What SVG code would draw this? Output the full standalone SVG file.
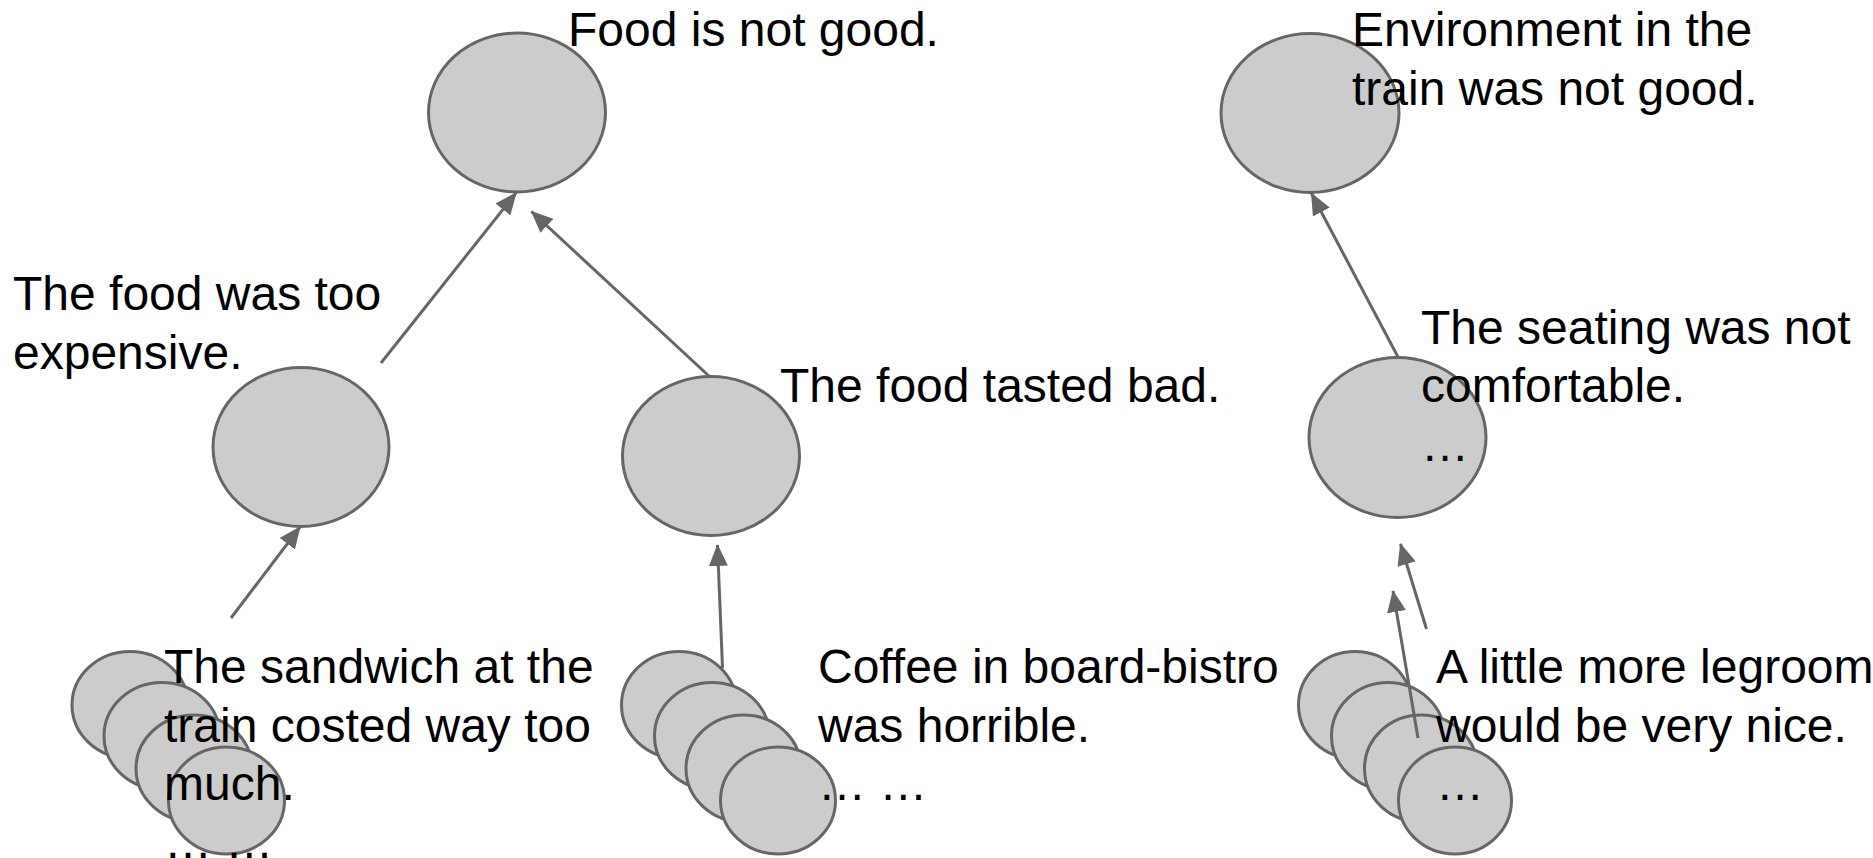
<svg xmlns="http://www.w3.org/2000/svg" width="1873" height="858" viewBox="0 0 1873 858">
<defs>
<style>
.n{fill:#cccccc;stroke:#666666;stroke-width:3}
.t{font-family:"Liberation Sans",Arial,sans-serif;font-size:48px;fill:#000000}
.c{stroke:#666666;stroke-width:3;fill:none;marker-end:url(#ah)}
</style>
<marker id="ah" markerUnits="userSpaceOnUse" viewBox="0 0 22 19" refX="21" refY="9.5" markerWidth="22" markerHeight="19" orient="auto">
<path d="M0,0 L22,9.5 L0,19 z" fill="#666666"/>
</marker>
</defs>
<rect width="1873" height="858" fill="#ffffff"/>
<g id="node-food-not-good">
<ellipse class="n" cx="517" cy="112.5" rx="88.5" ry="79.5"/>
<text class="t" x="568" y="46">Food is not good.</text>
</g>
<g id="node-environment">
<ellipse class="n" cx="1310" cy="113" rx="89" ry="79.5"/>
<text class="t" x="1352" y="46">Environment in the</text>
<text class="t" x="1352" y="105">train was not good.</text>
</g>
<g id="node-too-expensive">
<ellipse class="n" cx="301" cy="447" rx="88" ry="79.5"/>
<text class="t" x="13" y="310">The food was too</text>
<text class="t" x="13" y="368.5">expensive.</text>
</g>
<g id="node-tasted-bad">
<ellipse class="n" cx="711" cy="456" rx="88.5" ry="79.5"/>
<text class="t" x="780" y="402">The food tasted bad.</text>
</g>
<g id="node-seating">
<ellipse class="n" cx="1397.5" cy="437.5" rx="88.5" ry="80"/>
<text class="t" x="1421" y="343.5">The seating was not</text>
<text class="t" x="1421" y="402">comfortable.</text>
<text class="t" x="1421" y="461">…</text>
</g>
<g id="node-sandwich">
<ellipse class="n" cx="130" cy="705" rx="58" ry="53.5"/>
<ellipse class="n" cx="162" cy="736" rx="58" ry="53.5"/>
<ellipse class="n" cx="194" cy="768.5" rx="58" ry="53.5"/>
<ellipse class="n" cx="226.5" cy="800.5" rx="58" ry="53.5"/>
<text class="t" x="164" y="683">The sandwich at the</text>
<text class="t" x="164" y="741.5">train costed way too</text>
<text class="t" x="164" y="800">much.</text>
<text class="t" x="164" y="858">… …</text>
</g>
<g id="node-coffee">
<ellipse class="n" cx="679" cy="705" rx="57.5" ry="53.5"/>
<ellipse class="n" cx="712" cy="736" rx="57.5" ry="53.5"/>
<ellipse class="n" cx="743.5" cy="768.5" rx="57.5" ry="53.5"/>
<ellipse class="n" cx="778" cy="800.5" rx="57.5" ry="53.5"/>
<text class="t" x="818" y="683">Coffee in board-bistro</text>
<text class="t" x="818" y="741.5">was horrible.</text>
<text class="t" x="818" y="800">… …</text>
</g>
<g id="node-legroom">
<ellipse class="n" cx="1355" cy="705" rx="56.5" ry="53.5"/>
<ellipse class="n" cx="1388" cy="736" rx="56.5" ry="53.5"/>
<ellipse class="n" cx="1421" cy="768.5" rx="56.5" ry="53.5"/>
<ellipse class="n" cx="1455" cy="800.5" rx="56.5" ry="53.5"/>
<text class="t" x="1436" y="683">A little more legroom</text>
<text class="t" x="1436" y="741.5">would be very nice.</text>
<text class="t" x="1436" y="800">…</text>
</g>
<g id="connectors">
<line class="c" x1="381" y1="363" x2="516" y2="193"/>
<line class="c" x1="710" y1="377" x2="531.5" y2="211.5"/>
<line class="c" x1="231" y1="618" x2="300" y2="527"/>
<line class="c" x1="722.5" y1="668" x2="717.5" y2="545"/>
<line class="c" x1="1398" y1="357" x2="1311.5" y2="193.5"/>
<line class="c" x1="1426.5" y1="629" x2="1400.5" y2="544"/>
<line class="c" x1="1418" y1="738" x2="1393" y2="591"/>
</g>
</svg>
